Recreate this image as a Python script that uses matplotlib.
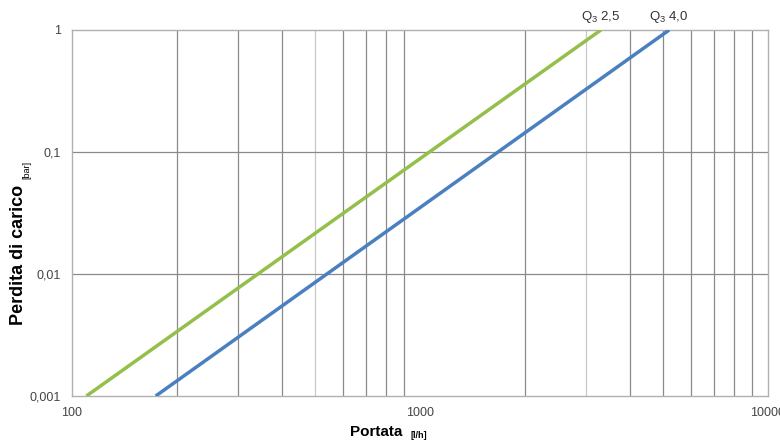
import matplotlib
matplotlib.use("Agg")
import matplotlib.pyplot as plt
from matplotlib.ticker import FixedLocator, NullLocator

plt.rcParams['font.family'] = ['Liberation Sans', 'DejaVu Sans']
plt.rcParams['mathtext.fontset'] = 'custom'
plt.rcParams['mathtext.rm'] = 'Liberation Sans'

# Dati (portata l/h, perdita di carico bar)
portata_q25 = [110, 3310]
portata_q40 = [174, 5200]
perdita = [0.001, 1]

x_ticks = [100, 1000, 10000]
x_labels = ["100", "1000", "10000"]
y_ticks = [0.001, 0.01, 0.1, 1]
y_labels = ["0,001", "0,01", "0,1", "1"]
x_grid = [200, 300, 400, 500, 600, 700, 800, 900,
          2000, 3000, 4000, 5000, 6000, 7000, 8000, 9000]
x_grid_light = [500, 3000]

fig = plt.figure(figsize=(7.8, 4.41), dpi=100)
ax = fig.add_axes([72 / 780, 45 / 441, 696 / 780, 366 / 441])

ax.set_xscale('log')
ax.set_yscale('log')
ax.set_xlim(100, 10000)
ax.set_ylim(0.001, 1)

for g in x_grid:
    c = '#c8c8c8' if g in x_grid_light else '#8a8a8a'
    ax.axvline(g, color=c, lw=0.9, zorder=1)
for g in y_ticks[1:-1]:
    ax.axhline(g, color='#8a8a8a', lw=0.9, zorder=1)

ax.plot(portata_q25, perdita, color='#93bf4a', lw=2.5, zorder=3, solid_capstyle='butt')
ax.plot(portata_q40, perdita, color='#4a80c0', lw=2.5, zorder=3, solid_capstyle='butt')

ax.text(portata_q25[-1], 1.1, r'$\mathregular{Q_3}$ 2,5', ha='center', va='bottom',
        fontsize=9.5, color='#333333')
ax.text(portata_q40[-1], 1.1, r'$\mathregular{Q_3}$ 4,0', ha='center', va='bottom',
        fontsize=9.5, color='#333333')

ax.xaxis.set_major_locator(FixedLocator(x_ticks))
ax.xaxis.set_minor_locator(NullLocator())
ax.yaxis.set_major_locator(FixedLocator(y_ticks))
ax.yaxis.set_minor_locator(NullLocator())
ax.set_xticklabels(x_labels)
ax.set_yticklabels(y_labels)
ax.tick_params(length=0, labelsize=9, labelcolor='#444444', pad=8)

for s in ax.spines.values():
    s.set_color('#b0b0b0')
    s.set_linewidth(1.0)

fig.text(0.482, 1 - 432 / 441, 'Portata', ha='center', va='center', fontsize=11, fontweight='bold')
fig.text(0.526, 1 - 436 / 441, '[l/h]', ha='left', va='center', fontsize=6.5, fontweight='bold')
fig.text(0.024, 1 - 255 / 441, 'Perdita di carico', rotation=90, ha='center', va='center',
         fontsize=13, fontweight='bold')
fig.text(0.035, 1 - 170 / 441, '[bar]', rotation=90, ha='center', va='center', fontsize=6.5)

fig.savefig('out.png', dpi=100)
